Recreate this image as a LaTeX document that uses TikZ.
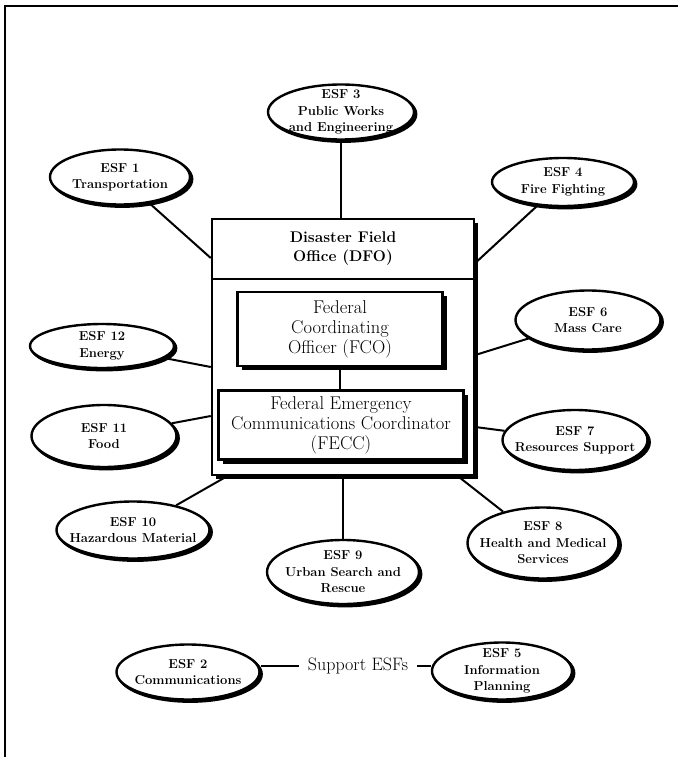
\documentclass[tikz,border=0pt]{standalone}
\usetikzlibrary{shapes.geometric,shadows}

\begin{document}
\begin{tikzpicture}[x=1pt, y=-1pt,
    esf/.style={ellipse, draw, line width=2.4pt, fill=white, inner sep=-20pt,
      align=center, font=\fontsize{13}{16.5}\selectfont\bfseries,
      copy shadow={shadow xshift=2.2pt, shadow yshift=-2.2pt},
      copy shadow={shadow xshift=1.1pt, shadow yshift=-1.1pt}},
    dfobox/.style={rectangle, draw, line width=2.5pt, fill=white,
      minimum width=262pt,
      drop shadow={shadow xshift=4pt, shadow yshift=-4pt, fill=black, opacity=1}},
    officer/.style={rectangle, draw, line width=2.5pt, fill=white, align=center,
      font=\fontsize{18.5}{20}\selectfont, inner sep=0pt,
      drop shadow={shadow xshift=4pt, shadow yshift=-4pt, fill=black, opacity=1}},
    link/.style={-, draw=black, line width=2pt}
  ]
    \useasboundingbox (0,0) rectangle (678,757);
    \draw[line width=1.8pt] (5,757) -- (5,6) -- (678,6);

    % disaster field office
    \node[dfobox, minimum height=60pt, align=center,
      font=\fontsize{15.5}{19}\selectfont\bfseries] (dfohead) at (343,249)
      {Disaster Field\\Office (DFO)};
    \node[dfobox, minimum height=196pt] (dfobody) at (343,377) {};
    \node[officer, minimum width=205pt, minimum height=74pt] (fco) at (340,329)
      {Federal\\Coordinating\\Officer (FCO)};
    \node[officer, minimum width=245pt, minimum height=69pt] (fecc) at (341,425)
      {Federal Emergency\\Communications Coordinator\\(FECC)};
    \draw[link] (fco) -- (fco |- fecc.north);

    % emergency support functions
    \node[esf, minimum width=140pt, minimum height=55pt] (esf1) at (120,177) {ESF 1\\Transportation};
    \node[esf, minimum width=146pt, minimum height=55pt] (esf3) at (341,112) {ESF 3\\Public Works\\and Engineering};
    \node[esf, minimum width=142pt, minimum height=48pt] (esf4) at (563,182) {ESF 4\\Fire Fighting};
    \node[esf, minimum width=145pt, minimum height=59pt] (esf6) at (588,320) {ESF 6\\Mass Care};
    \node[esf, minimum width=145pt, minimum height=60pt] (esf7) at (575,440) {ESF 7\\Resources Support};
    \node[esf, minimum width=151pt, minimum height=71pt] (esf8) at (543,543) {ESF 8\\Health and Medical\\Services};
    \node[esf, minimum width=152pt, minimum height=64pt] (esf9) at (343,572) {ESF 9\\Urban Search and\\Rescue};
    \node[esf, minimum width=153pt, minimum height=57pt] (esf10) at (133,530) {ESF 10\\Hazardous Material};
    \node[esf, minimum width=145pt, minimum height=62pt] (esf11) at (104,436) {ESF 11\\Food};
    \node[esf, minimum width=144pt, minimum height=44pt] (esf12) at (102,346) {ESF 12\\Energy};

    \draw[link] (esf3) -- (esf3 |- dfohead.north);
    \draw[link] (esf1) -- (dfohead.west |- 0,258);
    \draw[link] (esf4) -- (dfohead.east |- 0,263);
    \draw[link] (esf6) -- (dfobody.east |- 0,355);
    \draw[link] (esf7) -- (dfobody.east |- 0,427);
    \draw[link] (esf8) -- (dfobody.south -| 458,0);
    \draw[link] (esf9) -- (esf9 |- dfobody.south);
    \draw[link] (esf10) -- (dfobody.south -| 227,0);
    \draw[link] (esf11) -- (dfobody.west |- 0,416);
    \draw[link] (esf12) -- (dfobody.west |- 0,367);

    % support functions
    \node[font=\fontsize{18}{20}\selectfont, inner xsep=9pt] (support) at (358,666) {Support ESFs};
    \node[esf, minimum width=143pt, minimum height=55pt] (esf2) at (188,672) {ESF 2\\Communications};
    \node[esf, minimum width=140pt, minimum height=57pt] (esf5) at (502,671) {ESF 5\\Information\\Planning};
    \draw[link] (support) -- (support -| esf2.east);
    \draw[link] (support) -- (support -| esf5.west);
\end{tikzpicture}
\end{document}
